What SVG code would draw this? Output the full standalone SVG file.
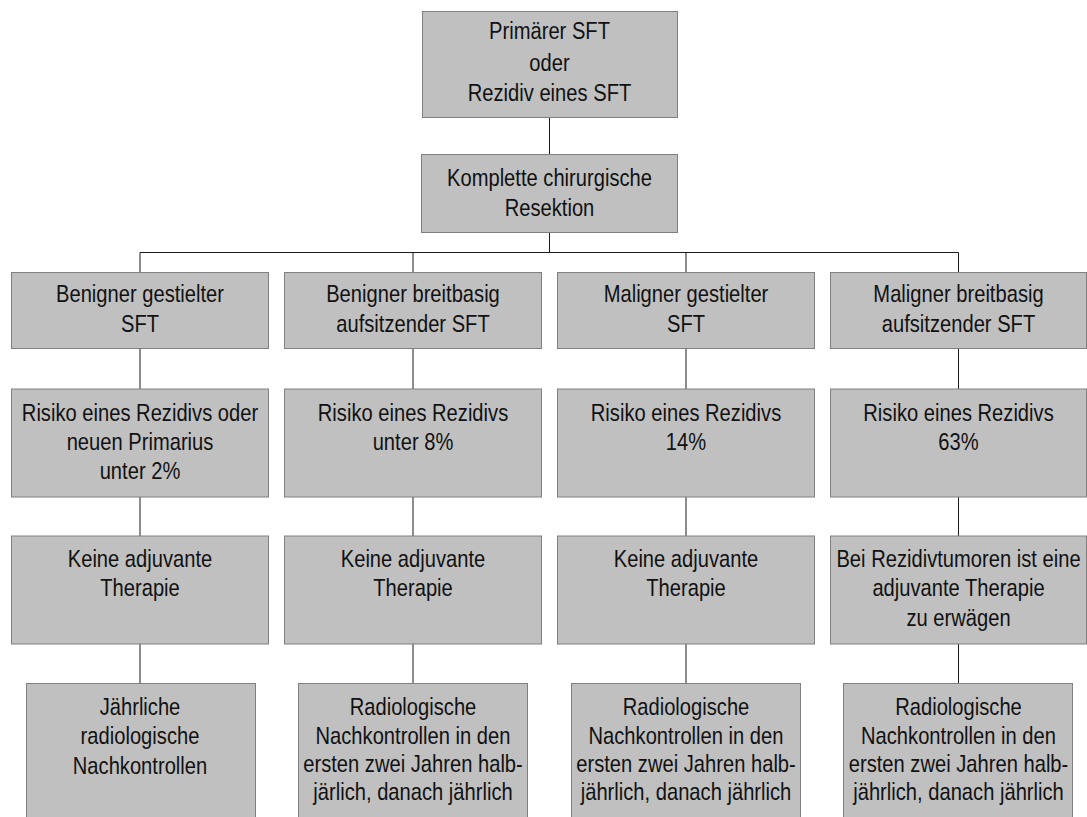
<svg xmlns="http://www.w3.org/2000/svg" width="1087" height="817" viewBox="0 0 1087 817">
<style>
.box{fill:#c0c0c0;stroke:#808080;stroke-width:1}
.t{font-family:"Liberation Sans",Arial,sans-serif;font-size:24px;fill:#111;text-anchor:middle}
.c{stroke:#1a1a1a;stroke-width:1;fill:none}
</style>
<rect width="1087" height="817" fill="#fff"/>
<g id="connectors">
<path class="c" d="M549.5 117V154M549.5 232V252.5M140 252.5H958.5M140 252.5V272.5M413 252.5V272.5M686 252.5V272.5M958.5 252.5V272.5"/>
<path class="c" d="M140 348V389M413 348V389M686 348V389M958.5 348V389"/>
<path class="c" d="M140 497V536M413 497V536M686 497V536M958.5 497V536"/>
<path class="c" d="M140 644V683M413 644V683M686 644V683M958.5 644V683"/>
</g>
<g id="n_top"><rect class="box" x="422.5" y="11.5" width="255" height="106"/>
<g transform="translate(549.5 0) scale(0.84 1)"><text class="t" x="0" y="39.5">Primärer SFT</text><text class="t" x="0" y="71">oder</text><text class="t" x="0" y="101.5">Rezidiv eines SFT</text></g></g>
<g id="n_resektion"><rect class="box" x="421.5" y="154.5" width="256" height="78"/>
<g transform="translate(549.5 0) scale(0.84 1)"><text class="t" x="0" y="186.5">Komplette chirurgische</text><text class="t" x="0" y="216.5">Resektion</text></g></g>

<g id="n_b1"><rect class="box" x="11.5" y="272.5" width="257" height="76"/>
<g transform="translate(140 0) scale(0.84 1)"><text class="t" x="0" y="302.5">Benigner gestielter</text><text class="t" x="0" y="332.5">SFT</text></g></g>
<g id="n_b2"><rect class="box" x="284.5" y="272.5" width="257" height="76"/>
<g transform="translate(413 0) scale(0.84 1)"><text class="t" x="0" y="302.5">Benigner breitbasig</text><text class="t" x="0" y="332.5">aufsitzender SFT</text></g></g>
<g id="n_b3"><rect class="box" x="557.5" y="272.5" width="257" height="76"/>
<g transform="translate(686 0) scale(0.84 1)"><text class="t" x="0" y="302.5">Maligner gestielter</text><text class="t" x="0" y="332.5">SFT</text></g></g>
<g id="n_b4"><rect class="box" x="830.5" y="272.5" width="256" height="76"/>
<g transform="translate(958.5 0) scale(0.84 1)"><text class="t" x="0" y="302.5">Maligner breitbasig</text><text class="t" x="0" y="332.5">aufsitzender SFT</text></g></g>

<g id="n_r1"><rect class="box" x="11.5" y="389" width="257" height="108"/>
<g transform="translate(140 0) scale(0.84 1)"><text class="t" x="0" y="421">Risiko eines Rezidivs oder</text><text class="t" x="0" y="450">neuen Primarius</text><text class="t" x="0" y="479.5">unter 2%</text></g></g>
<g id="n_r2"><rect class="box" x="284.5" y="389" width="257" height="108"/>
<g transform="translate(413 0) scale(0.84 1)"><text class="t" x="0" y="421">Risiko eines Rezidivs</text><text class="t" x="0" y="450">unter 8%</text></g></g>
<g id="n_r3"><rect class="box" x="557.5" y="389" width="257" height="108"/>
<g transform="translate(686 0) scale(0.84 1)"><text class="t" x="0" y="421">Risiko eines Rezidivs</text><text class="t" x="0" y="450">14%</text></g></g>
<g id="n_r4"><rect class="box" x="830.5" y="389" width="256" height="108"/>
<g transform="translate(958.5 0) scale(0.84 1)"><text class="t" x="0" y="421">Risiko eines Rezidivs</text><text class="t" x="0" y="450">63%</text></g></g>

<g id="n_a1"><rect class="box" x="11.5" y="536" width="257" height="108"/>
<g transform="translate(140 0) scale(0.84 1)"><text class="t" x="0" y="567">Keine adjuvante</text><text class="t" x="0" y="596.5">Therapie</text></g></g>
<g id="n_a2"><rect class="box" x="284.5" y="536" width="257" height="108"/>
<g transform="translate(413 0) scale(0.84 1)"><text class="t" x="0" y="567">Keine adjuvante</text><text class="t" x="0" y="596.5">Therapie</text></g></g>
<g id="n_a3"><rect class="box" x="557.5" y="536" width="257" height="108"/>
<g transform="translate(686 0) scale(0.84 1)"><text class="t" x="0" y="567">Keine adjuvante</text><text class="t" x="0" y="596.5">Therapie</text></g></g>
<g id="n_a4"><rect class="box" x="830.5" y="536" width="256" height="108"/>
<g transform="translate(958.5 0) scale(0.84 1)"><text class="t" x="0" y="567">Bei Rezidivtumoren ist eine</text><text class="t" x="0" y="596.5">adjuvante Therapie</text><text class="t" x="0" y="626.5">zu erwägen</text></g></g>

<g id="n_f1"><rect class="box" x="26.5" y="683.5" width="229" height="140"/>
<g transform="translate(140 0) scale(0.84 1)"><text class="t" x="0" y="715">Jährliche</text><text class="t" x="0" y="744.5">radiologische</text><text class="t" x="0" y="774">Nachkontrollen</text></g></g>
<g id="n_f2"><rect class="box" x="298.5" y="683.5" width="229" height="140"/>
<g transform="translate(413 0) scale(0.84 1)"><text class="t" x="0" y="715">Radiologische</text><text class="t" x="0" y="744">Nachkontrollen in den</text><text class="t" x="0" y="772.5">ersten zwei Jahren halb-</text><text class="t" x="0" y="800.5">järlich, danach jährlich</text></g></g>
<g id="n_f3"><rect class="box" x="571.5" y="683.5" width="229" height="140"/>
<g transform="translate(686 0) scale(0.84 1)"><text class="t" x="0" y="715">Radiologische</text><text class="t" x="0" y="744">Nachkontrollen in den</text><text class="t" x="0" y="772.5">ersten zwei Jahren halb-</text><text class="t" x="0" y="800.5">jährlich, danach jährlich</text></g></g>
<g id="n_f4"><rect class="box" x="843.5" y="683.5" width="229" height="140"/>
<g transform="translate(958.5 0) scale(0.84 1)"><text class="t" x="0" y="715">Radiologische</text><text class="t" x="0" y="744">Nachkontrollen in den</text><text class="t" x="0" y="772.5">ersten zwei Jahren halb-</text><text class="t" x="0" y="800.5">jährlich, danach jährlich</text></g></g>
</svg>
